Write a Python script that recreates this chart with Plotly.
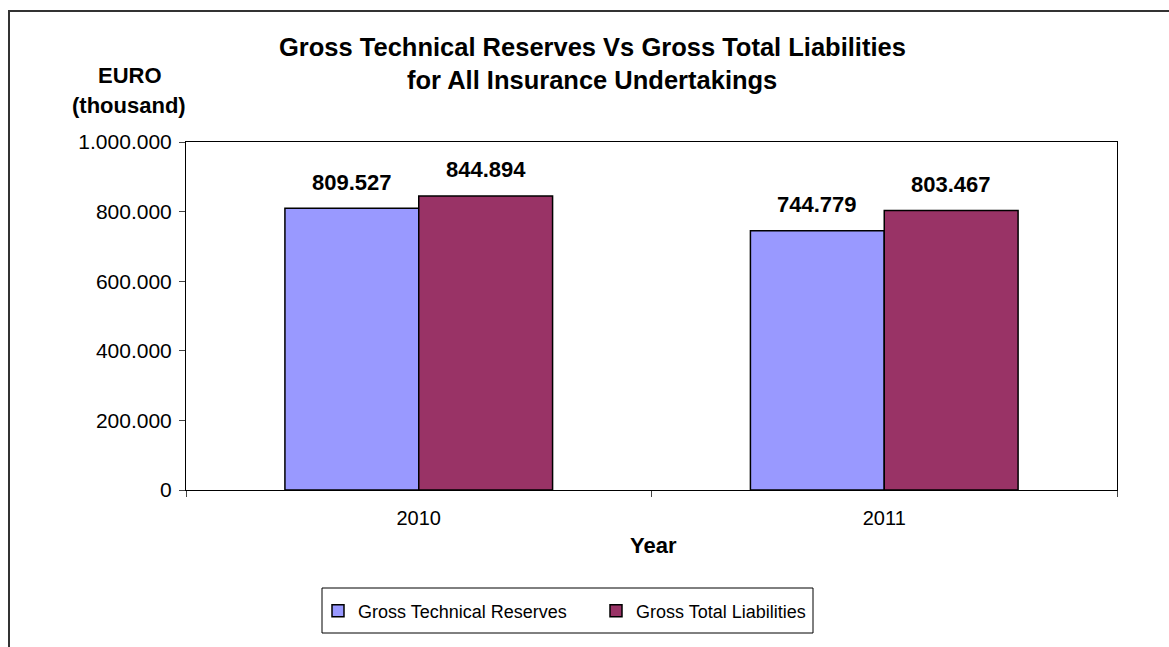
import plotly.graph_objects as go

years = ["2010", "2011"]
technical_reserves = [809527, 744779]
total_liabilities = [844894, 803467]
series_names = ["Gross Technical Reserves", "Gross Total Liabilities"]
colors = ["#9999FF", "#993366"]
y_ticks = [0, 200000, 400000, 600000, 800000, 1000000]

W, H = 1169, 647
L, R, T, B = 186, 1117, 142, 490
FONT = "Liberation Sans, Arial, sans-serif"

def px(x):
    return (x - L) / (R - L)

def py(y):
    return (B - y) / (B - T)

fig = go.Figure()
for name, vals, col in zip(series_names, [technical_reserves, total_liabilities], colors):
    fig.add_trace(go.Bar(
        x=years, y=vals, name=name,
        marker=dict(color=col, line=dict(color="black", width=1.5)),
    ))

annotations = []
for i, (name, vals) in enumerate(zip(series_names, [technical_reserves, total_liabilities])):
    for j, v in enumerate(vals):
        annotations.append(dict(
            x=j, y=v, xref="x", yref="y",
            text="<b>" + f"{v:,}".replace(",", ".") + "</b>",
            showarrow=False, xshift=(-67 if i == 0 else 67), yshift=26,
            font=dict(family=FONT, size=22, color="black"),
        ))

def label(x, y, text, size):
    return dict(x=px(x), y=py(y), xref="paper", yref="paper", text=text,
                showarrow=False, xanchor="center", yanchor="middle",
                font=dict(family=FONT, size=size, color="black"))

annotations += [
    label(592, 47, "<b>Gross Technical Reserves Vs Gross Total Liabilities</b>", 25.5),
    label(592, 80, "<b>for All Insurance Undertakings</b>", 25.5),
    label(130, 75, "<b>EURO</b>", 22),
    label(129, 105, "<b>(thousand)</b>", 22),
    label(653, 545, "<b>Year</b>", 22),
]

fig.update_layout(
    width=W, height=H,
    margin=dict(l=L, r=W - R, t=T, b=H - B, autoexpand=False),
    paper_bgcolor="white", plot_bgcolor="white",
    separators=",.",
    barmode="group", bargap=0.425, bargroupgap=0,
    font=dict(family=FONT, size=20, color="black"),
    showlegend=True,
    legend=dict(
        orientation="h", x=px(318), y=py(611), xanchor="left", yanchor="middle",
        borderwidth=0, bgcolor="rgba(0,0,0,0)",
        font=dict(family=FONT, size=18, color="black"),
        entrywidth=233, itemwidth=30,
    ),
    annotations=annotations,
    shapes=[
        dict(type="rect", xref="paper", yref="paper",
             x0=px(9), x1=px(1200), y0=py(700), y1=py(11),
             line=dict(color="#333333", width=2), layer="below"),
        dict(type="rect", xref="paper", yref="paper",
             x0=px(322), x1=px(813), y0=py(633), y1=py(588),
             line=dict(color="black", width=1), fillcolor="white", layer="below"),
    ],
    xaxis=dict(type="category", range=[-0.5, 1.5], showline=True, linecolor="black",
               linewidth=1, mirror=True, ticks="outside", tickson="boundaries",
               ticklen=6, tickcolor="#444", ticklabelstandoff=10,
               tickfont=dict(family=FONT, size=20, color="black"), showgrid=False),
    yaxis=dict(range=[0, 1000000], tickvals=y_ticks, tickformat=",d",
               showline=True, linecolor="black", linewidth=1, mirror=True,
               ticks="outside", ticklen=6, tickcolor="#444", showgrid=False,
               ticklabelstandoff=3,
               zeroline=False, tickfont=dict(family=FONT, size=21, color="black")),
)

fig.write_html("out.html")
